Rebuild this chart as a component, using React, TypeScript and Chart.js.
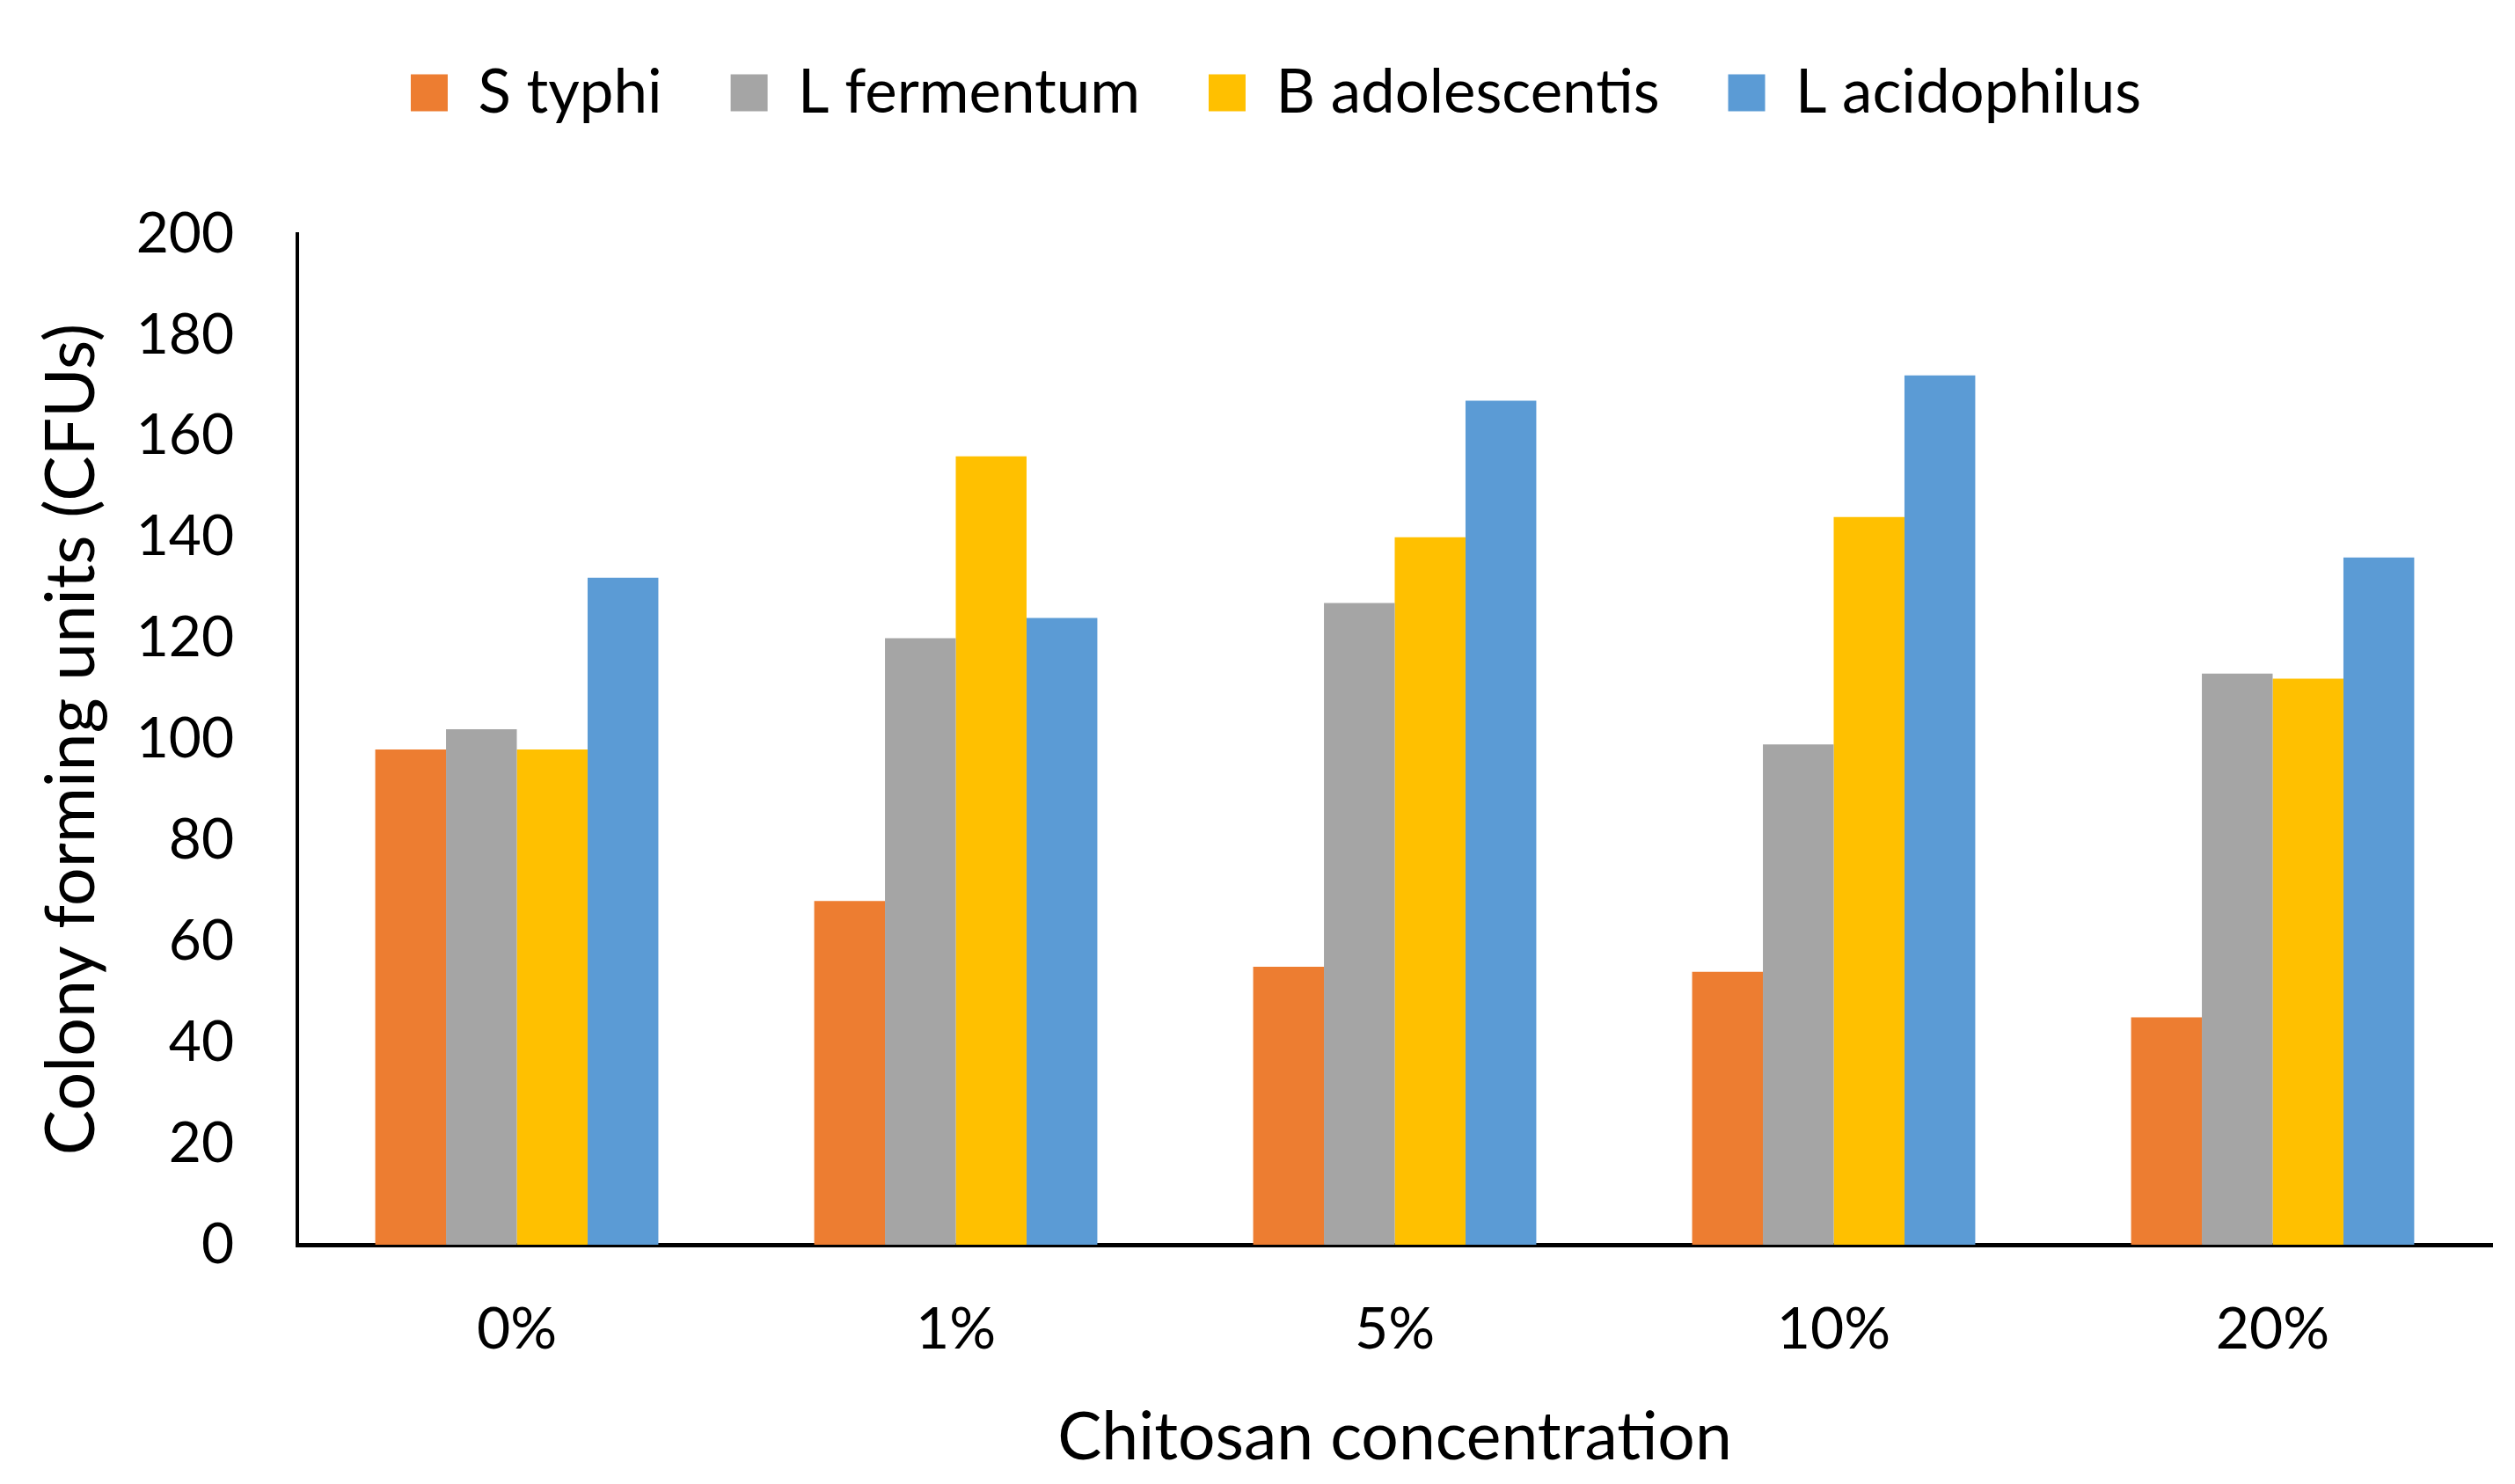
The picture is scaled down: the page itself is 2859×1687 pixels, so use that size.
import { useEffect, useRef } from 'react';
import Chart from 'chart.js/auto';

const categories = ['0%', '1%', '5%', '10%', '20%'];
const seriesNames = ['S typhi', 'L fermentum', 'B adolescentis', 'L acidophilus'];
const sTyphi = [98, 68, 55, 54, 45];
const lFermentum = [102, 120, 127, 99, 113];
const bAdolescentis = [98, 156, 140, 144, 112];
const lAcidophilus = [132, 124, 167, 172, 136];
const seriesColors = ['#ED7D31', '#A5A5A5', '#FFC000', '#5B9BD5'];
const yMin = 0;
const yMax = 200;
const yStep = 20;

const FONT = 'Lato';

// moves the built-in legend to where the original puts it
const legendNudge = {
    id: 'legendNudge',
    afterLayout(chart: any) {
        const lg = chart.legend;
        if (!lg) return;
        lg.left += 34;
        lg.right += 34;
        lg.top -= 116;
        lg.bottom -= 116;
    },
};

export default function App() {
    const canvasRef = useRef<HTMLCanvasElement | null>(null);

    useEffect(() => {
        if (!canvasRef.current) {
            return;
        }
        const values = [sTyphi, lFermentum, bAdolescentis, lAcidophilus];

        const chart = new Chart(canvasRef.current, {
            type: 'bar',
            data: {
                labels: categories,
                datasets: seriesNames.map((name, i) => ({
                    label: name,
                    data: values[i],
                    backgroundColor: seriesColors[i],
                    borderWidth: 0,
                    categoryPercentage: 0.645,
                    barPercentage: 1,
                })),
            },
            options: {
                animation: false,
                responsive: true,
                maintainAspectRatio: false,
                layout: { padding: { top: 109, left: 0, right: 26, bottom: 0 } },
                plugins: {
                    tooltip: { enabled: false },
                    legend: {
                        position: 'top',
                        labels: {
                            color: '#000',
                            boxWidth: 42,
                            boxHeight: 42,
                            padding: 78,
                            font: { family: FONT, size: 69 },
                        },
                    },
                },
                scales: {
                    x: {
                        grid: { display: false, drawTicks: false },
                        border: { display: true, color: '#000', width: 5 },
                        ticks: {
                            color: '#000',
                            padding: 57,
                            font: { family: FONT, size: 66 },
                        },
                        title: {
                            display: true,
                            text: 'Chitosan concentration',
                            color: '#000',
                            font: { family: FONT, size: 75 },
                            padding: { top: 0, bottom: 7 },
                        },
                        afterFit: (scale: any) => {
                            scale.height = 272;
                        },
                    },
                    y: {
                        min: yMin,
                        max: yMax,
                        grid: { display: false, drawTicks: false },
                        border: { display: true, color: '#000', width: 4 },
                        ticks: {
                            stepSize: yStep,
                            color: '#000',
                            padding: 72,
                            font: { family: FONT, size: 64 },
                        },
                        title: {
                            display: true,
                            text: 'Colony forming units (CFUs)',
                            color: '#000',
                            font: { family: FONT, size: 77 },
                            padding: { top: 36, bottom: 0 },
                        },
                        afterFit: (scale: any) => {
                            scale.width = 338;
                        },
                    },
                },
            },
            plugins: [legendNudge],
        });
        return () => chart.destroy();
    }, []);

    return (
        <div style={{ position: 'absolute', left: 0, top: 0, width: '2859px', height: '1687px', background: '#fff' }}>
            <canvas ref={canvasRef} />
        </div>
    );
}
